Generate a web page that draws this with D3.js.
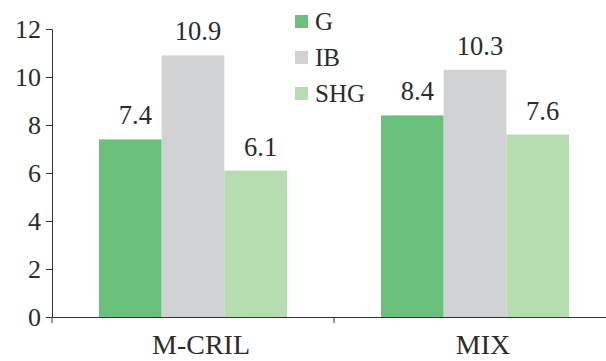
<!DOCTYPE html>
<html>
<head>
<meta charset="utf-8">
<script src="https://cdn.jsdelivr.net/npm/d3@7"></script>
<style>
  html, body { margin: 0; padding: 0; background: #fff; }
  svg { display: block; }
</style>
</head>
<body>
<svg id="chart" width="606" height="361"></svg>
<script>
// Data
const categories = ["M-CRIL", "MIX"];
const seriesNames = ["G", "IB", "SHG"];
const gValues = [7.4, 8.4];
const ibValues = [10.9, 10.3];
const shgValues = [6.1, 7.6];
const yTicks = [0, 2, 4, 6, 8, 10, 12];
const colors = ["#69c17b", "#d1d2d4", "#b5ddaf"];

const seriesValues = [gValues, ibValues, shgValues];

const svg = d3.select("#chart");
const textColor = "#2b2b2b";
const axisColor = "#333";
const fontName = '"Liberation Serif"';

const plotLeft = 52, plotRight = 616, plotTop = 29, plotBottom = 317;

const y = d3.scaleLinear().domain([0, 12]).range([plotBottom, plotTop]);
const x0 = d3.scaleBand().domain(categories).range([plotLeft, plotRight]).paddingInner(0).paddingOuter(0);
const x1 = d3.scaleBand().domain(seriesNames).range([0, x0.bandwidth()]).paddingInner(0).paddingOuter(0.75);

// Bars and value labels
const rows = categories.map((c, i) => ({
  cat: c,
  items: seriesNames.map((s, j) => ({ s, v: seriesValues[j][i], color: colors[j] }))
}));

const groups = svg.selectAll("g.grp").data(rows).join("g")
  .attr("class", "grp")
  .attr("transform", d => `translate(${x0(d.cat)},0)`);

groups.selectAll("rect").data(d => d.items).join("rect")
  .attr("x", d => x1(d.s))
  .attr("y", d => y(d.v))
  .attr("width", x1.bandwidth())
  .attr("height", d => y(0) - y(d.v))
  .attr("fill", d => d.color);

groups.selectAll("text.val").data(d => d.items).join("text")
  .attr("class", "val")
  .attr("x", d => x1(d.s) + x1.bandwidth() / 2 + 5)
  .attr("y", d => y(d.v) - 15)
  .attr("text-anchor", "middle")
  .style("font-family", fontName)
  .style("font-size", "26.5px")
  .attr("fill", textColor)
  .text(d => d.v.toFixed(1));

// Y axis
const yAxis = svg.append("g")
  .attr("transform", `translate(${plotLeft},0)`)
  .call(d3.axisLeft(y).tickValues(yTicks).tickSize(6).tickSizeOuter(0).tickPadding(5));
yAxis.select(".domain").attr("stroke", axisColor);
yAxis.selectAll(".tick line").attr("stroke", axisColor);
yAxis.selectAll(".tick text")
  .style("font-family", fontName)
  .style("font-size", "26px")
  .attr("fill", textColor);

// X axis
const xAxis = svg.append("g")
  .attr("transform", `translate(0,${plotBottom})`)
  .call(d3.axisBottom(x0).tickSize(0).tickSizeOuter(0).tickPadding(0));
xAxis.select(".domain").attr("stroke", axisColor);
xAxis.selectAll(".tick text")
  .style("font-family", fontName)
  .style("font-size", "28px")
  .attr("fill", textColor)
  .attr("dx", 8)
  .attr("dy", 0)
  .attr("y", 37);

// Category separators on the x axis
const bounds = categories.map(c => x0(c)).concat([x0(categories[categories.length - 1]) + x0.bandwidth()]);
xAxis.selectAll("line.sep").data(bounds).join("line")
  .attr("class", "sep")
  .attr("x1", d => d).attr("x2", d => d)
  .attr("y1", 0).attr("y2", 6)
  .attr("stroke", axisColor);

// Legend
const legend = svg.append("g").attr("transform", "translate(295,15)");
const li = legend.selectAll("g").data(seriesNames).join("g")
  .attr("transform", (d, i) => `translate(0,${i * 36})`);
li.append("rect")
  .attr("width", 13).attr("height", 13)
  .attr("fill", (d, i) => colors[i]);
li.append("text")
  .attr("x", 20).attr("y", 15)
  .style("font-family", fontName)
  .style("font-size", "25px")
  .attr("fill", textColor)
  .text(d => d);
</script>
</body>
</html>
